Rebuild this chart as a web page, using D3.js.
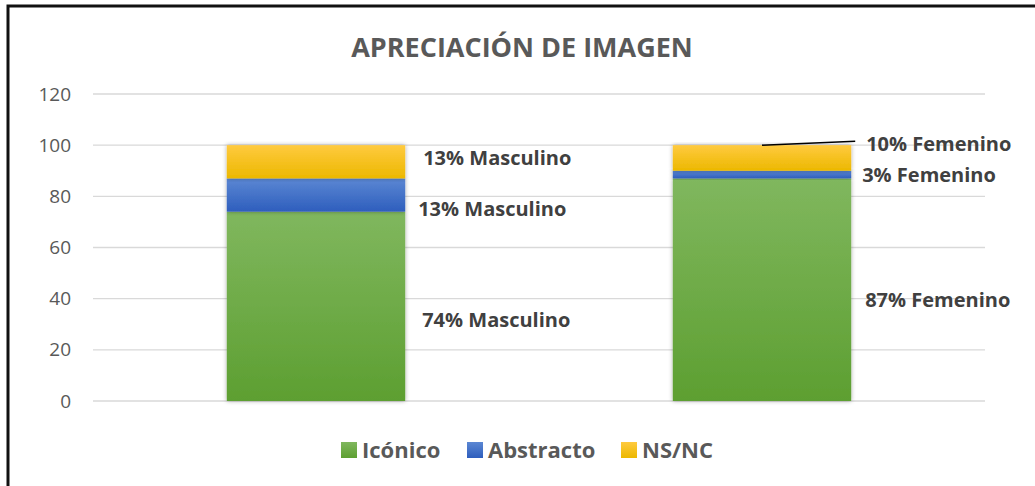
<!DOCTYPE html>
<html>
<head>
<meta charset="utf-8">
<script src="https://cdn.jsdelivr.net/npm/d3@7"></script>
<style>
  body { margin: 0; background: #fff; }
  text { font-family: "Open Sans", "Noto Sans", sans-serif; }
</style>
</head>
<body>
<div id="chart"></div>
<script>
var categories = ["Masculino", "Femenino"];
var series = ["Icónico", "Abstracto", "NS/NC"];
var iconico = [74, 87];
var abstracto = [13, 3];
var nsnc = [13, 10];
var yTicks = [0, 20, 40, 60, 80, 100, 120];

var colors = {
  "Icónico": ["#80b75e", "#5d9f31"],
  "Abstracto": ["#5b87d3", "#2e5ebd"],
  "NS/NC": ["#ffca3f", "#ecb800"]
};

var width = 1035, height = 486;
var svg = d3.select("#chart").append("svg")
  .attr("width", width)
  .attr("height", height);

// gradients for the bars
var defs = svg.append("defs");
series.forEach(function(s, i) {
  var g = defs.append("linearGradient")
    .attr("id", "grad" + i)
    .attr("x1", 0).attr("y1", 0).attr("x2", 0).attr("y2", 1);
  g.append("stop").attr("offset", "0%").attr("stop-color", colors[s][0]);
  g.append("stop").attr("offset", "100%").attr("stop-color", colors[s][1]);
});
var shadow = defs.append("filter").attr("id", "shadow")
  .attr("x", "-10%").attr("y", "-10%").attr("width", "120%").attr("height", "120%");
shadow.append("feDropShadow").attr("dx", 0).attr("dy", 0)
  .attr("stdDeviation", 2).attr("flood-color", "#000").attr("flood-opacity", 0.35);

// outer frame
svg.append("rect")
  .attr("x", 8).attr("y", 6)
  .attr("width", width).attr("height", height)
  .attr("fill", "none").attr("stroke", "#111").attr("stroke-width", 3);

svg.append("text")
  .attr("x", 522).attr("y", 57)
  .attr("text-anchor", "middle")
  .attr("font-size", 27).attr("font-weight", "bold")
  .attr("fill", "#595959")
  .text("APRECIACIÓN DE IMAGEN");

var x = d3.scaleBand()
  .domain(categories)
  .range([93, 985])
  .paddingInner(0.6)
  .paddingOuter(0.3);

var y = d3.scaleLinear()
  .domain([0, 120])
  .range([401, 94]);

// gridlines
svg.append("g").selectAll("line")
  .data(yTicks)
  .enter().append("line")
  .attr("x1", 93).attr("x2", 985)
  .attr("y1", function(d) { return y(d); })
  .attr("y2", function(d) { return y(d); })
  .attr("stroke", "#d9d9d9").attr("stroke-width", 1.3);

var yAxis = d3.axisLeft(y).tickValues(yTicks).tickSize(0).tickPadding(0);
var yg = svg.append("g")
  .attr("transform", "translate(71,0)")
  .call(yAxis);
yg.select(".domain").remove();
yg.selectAll("text")
  .attr("font-size", 19)
  .attr("fill", "#595959")
  .attr("font-family", "Open Sans, sans-serif");

// stacked data
var table = categories.map(function(c, i) {
  return { cat: c, "Icónico": iconico[i], "Abstracto": abstracto[i], "NS/NC": nsnc[i] };
});
var stacked = d3.stack().keys(series)(table);

var layers = svg.append("g").selectAll("g")
  .data(stacked)
  .enter().append("g")
  .attr("fill", function(d, i) { return "url(#grad" + i + ")"; });

layers.selectAll("rect")
  .data(function(d) { return d; })
  .enter().append("rect")
  .attr("x", function(d) { return x(d.data.cat); })
  .attr("width", x.bandwidth())
  .attr("y", function(d) { return y(d[1]); })
  .attr("height", function(d) { return y(d[0]) - y(d[1]); })
  .attr("filter", "url(#shadow)");

// data labels: offsets from bar right edge / segment middle, as placed in the original
var labelDx = { "Masculino": [17, 13, 18], "Femenino": [14, 11, 15] };
var labelDy = { "Masculino": [21, 21, 3], "Femenino": [17, 7, 6] };

var labelG = svg.append("g");
stacked.forEach(function(layer, si) {
  layer.forEach(function(d) {
    var cat = d.data.cat;
    var v = d[1] - d[0];
    var bx = x(cat) + x.bandwidth();
    var mid = (cat === "Femenino" && si === 2) ? y(d[1]) : y((d[0] + d[1]) / 2);
    labelG.append("text")
      .attr("x", bx + labelDx[cat][si])
      .attr("y", mid + labelDy[cat][si])
      .attr("font-size", 20).attr("font-weight", "bold")
      .attr("fill", "#404040")
      .text(v + "% " + cat);
    if (cat === "Femenino" && si === 2) {
      labelG.append("line")
        .attr("x1", x(cat) + x.bandwidth() / 2).attr("y1", y(d[1]))
        .attr("x2", bx + 4).attr("y2", y(d[1]) - 4)
        .attr("stroke", "#000").attr("stroke-width", 1.5);
    }
  });
});

// legend
var legendX = [341, 467, 621];
var lg = svg.append("g");
series.forEach(function(s, i) {
  lg.append("rect")
    .attr("x", legendX[i]).attr("y", 442)
    .attr("width", 16).attr("height", 16)
    .attr("fill", "url(#grad" + i + ")");
  lg.append("text")
    .attr("x", legendX[i] + 21).attr("y", 458)
    .attr("font-size", 22).attr("font-weight", "bold")
    .attr("fill", "#595959")
    .text(s);
});
</script>
</body>
</html>
